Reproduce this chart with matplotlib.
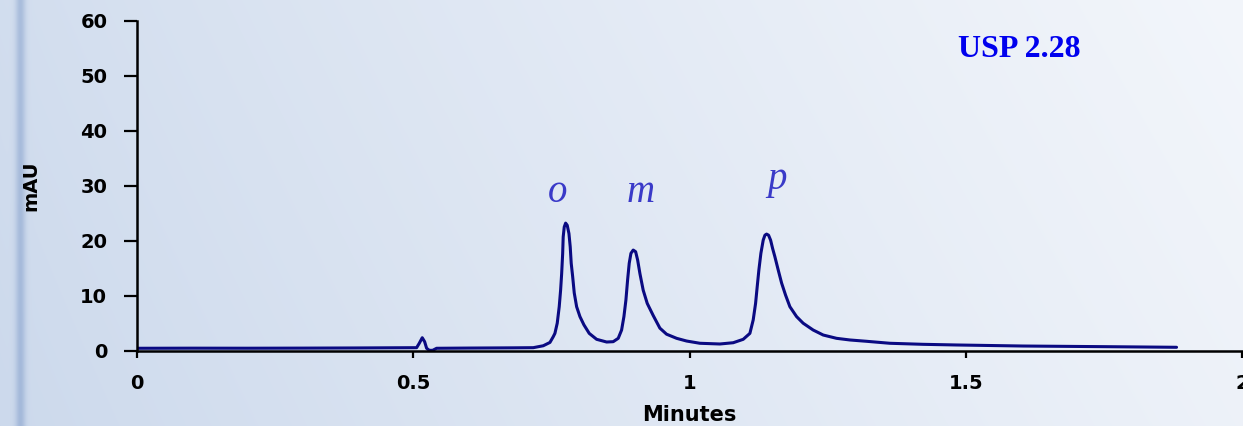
import numpy as np
import matplotlib
matplotlib.use("Agg")
import matplotlib.pyplot as plt

# ---- data ----
time_min = [0.000, 0.100, 0.200, 0.300, 0.400, 0.5061, 0.5109, 0.5163, 0.5206, 0.5242,
            0.5290, 0.5351, 0.5423, 0.600, 0.680, 0.7172, 0.7353, 0.7474, 0.7534,
            0.7564, 0.7606, 0.7642, 0.7667, 0.7686, 0.7704, 0.7714, 0.7733, 0.7758,
            0.7787, 0.7818, 0.7841, 0.7859, 0.7885, 0.7914, 0.7957, 0.8017, 0.8089,
            0.8185, 0.8319, 0.8500, 0.8619, 0.8710, 0.8771, 0.8813, 0.8849, 0.8880,
            0.8909, 0.8940, 0.8981, 0.9025, 0.9061, 0.9103, 0.9162, 0.9235, 0.9343,
            0.9464, 0.9585, 0.9767, 0.9947, 1.0188, 1.0550, 1.0791, 1.0972, 1.1093,
            1.1153, 1.1196, 1.1225, 1.1256, 1.1292, 1.1334, 1.1365, 1.1395, 1.1431,
            1.1468, 1.1504, 1.1545, 1.1605, 1.1667, 1.1739, 1.1817, 1.1938, 1.2057,
            1.2238, 1.2420, 1.2662, 1.2903, 1.3205, 1.3626, 1.4229, 1.4833, 1.6039,
            1.7548, 1.8815]
signal_mau = [0.44, 0.46, 0.45, 0.47, 0.50, 0.55, 1.35, 2.36, 1.64, 0.44,
              0.07, 0.07, 0.44, 0.48, 0.52, 0.55, 0.90, 1.50, 2.55,
              3.15, 5.0, 8.0, 11.0, 14.0, 17.6, 20.7, 22.5, 23.2,
              22.8, 21.3, 18.9, 15.9, 13.5, 10.5, 8.0, 6.2, 4.7,
              3.15, 2.07, 1.58, 1.64, 2.25, 3.76, 6.2, 9.2, 12.9,
              15.9, 17.7, 18.3, 18.0, 16.5, 14.0, 11.0, 8.6, 6.4,
              4.1, 3.0, 2.25, 1.76, 1.35, 1.22, 1.45, 2.07, 3.15,
              5.6, 8.6, 11.6, 14.7, 17.7, 20.1, 21.0, 21.2, 21.0,
              20.1, 18.6, 17.1, 14.7, 12.3, 10.1, 8.0, 6.2, 5.0,
              3.76, 2.85, 2.25, 1.95, 1.71, 1.35, 1.16, 1.04, 0.85,
              0.73, 0.62]

x_ticks = [0, 0.5, 1, 1.5, 2]
x_tick_labels = ["0", "0.5", "1", "1.5", "2"]
y_ticks = [0, 10, 20, 30, 40, 50, 60]
peak_labels = ["o", "m", "p"]
peak_label_x = [0.762, 0.912, 1.158]
peak_label_y = [27.0, 27.0, 29.4]
annotation = "USP 2.28"

W, H = 1243, 426
fig = plt.figure(figsize=(W / 100, H / 100), dpi=100)

# ---- background (light blue gradient with a stripe at the left edge) ----
bg = fig.add_axes([0, 0, 1, 1], zorder=0)
xs = np.linspace(0, 1, W)[None, :]
ys = np.linspace(0, 1, H)[:, None]
left_col = np.array([204, 217, 236]) / 255.0
right_col = np.array([243, 246, 251]) / 255.0
t = np.clip(xs ** 0.9 * 0.85 + (1 - ys) * 0.15, 0, 1)
img = left_col[None, None, :] * (1 - t[..., None]) + right_col[None, None, :] * t[..., None]
px = np.arange(W)
stripe = np.exp(-((px - 20) / 5.0) ** 2)
img = img - 0.16 * stripe[None, :, None] * np.array([1.0, 0.8, 0.45])[None, None, :]
img = np.clip(img, 0, 1)
bg.imshow(img, aspect="auto", extent=[0, 1, 0, 1], origin="upper")
bg.set_axis_off()

# ---- main chart ----
ax = fig.add_axes([137 / W, 75.3 / H, 1105 / W, 330 / H], zorder=1)
ax.patch.set_alpha(0)
ax.plot(time_min, signal_mau, color="#0a0a82", lw=2.2, solid_joinstyle="round",
        solid_capstyle="round")

ax.set_xlim(0, 2)
ax.set_ylim(0, 60)
ax.set_xticks(x_ticks)
ax.set_xticklabels(x_tick_labels)
ax.set_yticks(y_ticks)

for s in ["top", "right"]:
    ax.spines[s].set_visible(False)
for s in ["left", "bottom"]:
    ax.spines[s].set_linewidth(1.8)
    ax.spines[s].set_color("black")

ax.tick_params(axis="y", direction="out", length=9.4, width=1.6, pad=12,
               labelsize=14)
ax.tick_params(axis="x", direction="out", length=5, width=1.6, pad=12,
               labelsize=14)
for lab in ax.get_xticklabels() + ax.get_yticklabels():
    lab.set_fontweight("bold")

ax.set_xlabel("Minutes", fontsize=15, fontweight="bold")
ax.xaxis.label.set_va("baseline")
ax.xaxis.set_label_coords(0.5, -0.214)
ax.set_ylabel("mAU", fontsize=14, fontweight="bold")
ax.yaxis.label.set_va("center")
ax.yaxis.set_label_coords(-0.096, 0.5)

for lab, lx, ly in zip(peak_labels, peak_label_x, peak_label_y):
    ax.text(lx, ly, lab, fontsize=28, style="italic", family="Liberation Serif",
            color="#3a3ac8", ha="center", va="baseline")

ax.text(1.486, 53.4, annotation, fontsize=23, fontweight="bold",
        family="Liberation Serif", color="#0000ee", ha="left", va="baseline")

fig.savefig("out.png", dpi=100)
